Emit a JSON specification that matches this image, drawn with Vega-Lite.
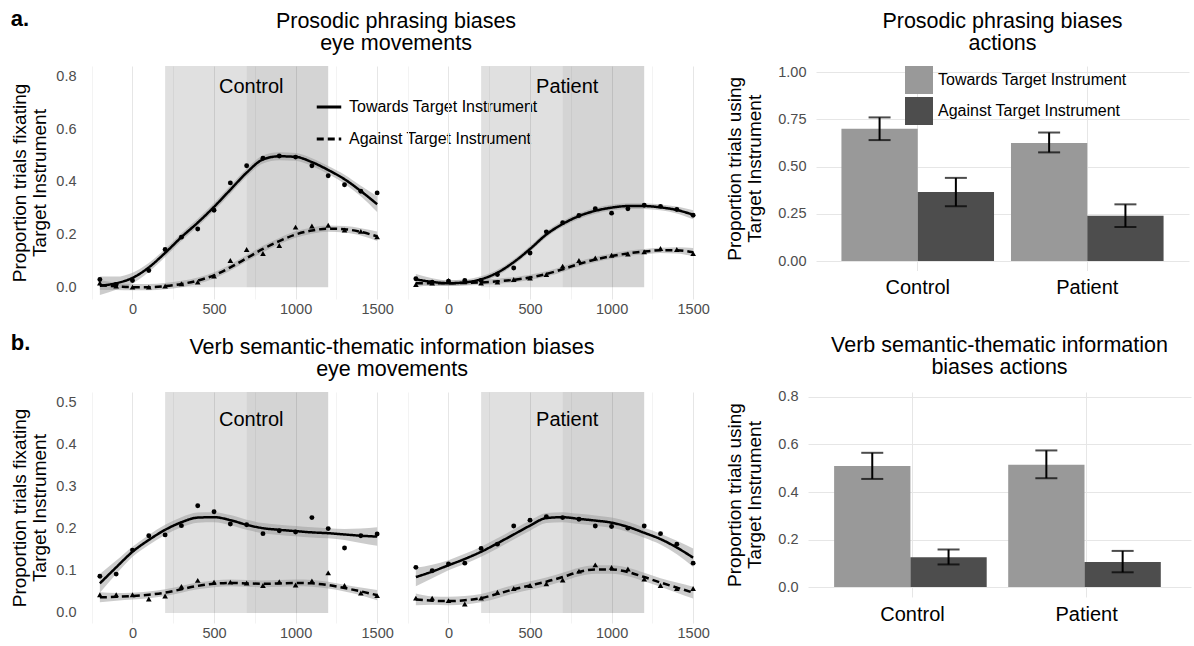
{
"$schema": "https://vega.github.io/schema/vega-lite/v6.json",
"padding": {"left": 10, "top": 7, "right": 4, "bottom": 2},
"config": {
  "font": "Liberation Sans",
  "view": {"stroke": null},
  "axis": {"domain": false, "ticks": false, "tickSize": 0, "labelColor": "#4d4d4d", "labelFontSize": 14.5, "labelPadding": 10, "titleFontSize": 19, "titleFontWeight": "normal", "titleColor": "black", "titleLineHeight": 20, "titlePadding": 6, "gridColor": "#e6e6e6"},
  "title": {"fontSize": 21.5, "fontWeight": "normal", "lineHeight": 22, "offset": 12, "color": "black"},
  "legend": {"labelFontSize": 16, "labelColor": "black", "title": null, "labelLimit": 400}
},
"datasets": {
  "shade": [{"start": 200, "end": 700}, {"start": 700, "end": 1200}],
  "bars": [
    {"row": "a", "grp": "Control", "type": "Towards", "mean": 0.70, "lo": 0.64, "hi": 0.76},
    {"row": "a", "grp": "Control", "type": "Against", "mean": 0.365, "lo": 0.29, "hi": 0.44},
    {"row": "a", "grp": "Patient", "type": "Towards", "mean": 0.625, "lo": 0.575, "hi": 0.68},
    {"row": "a", "grp": "Patient", "type": "Against", "mean": 0.24, "lo": 0.18, "hi": 0.30},
    {"row": "b", "grp": "Control", "type": "Towards", "mean": 0.51, "lo": 0.455, "hi": 0.565},
    {"row": "b", "grp": "Control", "type": "Against", "mean": 0.125, "lo": 0.095, "hi": 0.158},
    {"row": "b", "grp": "Patient", "type": "Towards", "mean": 0.515, "lo": 0.458, "hi": 0.575},
    {"row": "b", "grp": "Patient", "type": "Against", "mean": 0.105, "lo": 0.062, "hi": 0.152}
  ],
  "fit": [
    {"row":"a","grp":"Control","type":"Towards","t":-200,"fit":0.005,"lo":-0.03,"hi":0.04},
    {"row":"a","grp":"Control","type":"Towards","t":-100,"fit":0.015,"lo":-0.01,"hi":0.04},
    {"row":"a","grp":"Control","type":"Towards","t":0,"fit":0.035,"lo":0.015,"hi":0.055},
    {"row":"a","grp":"Control","type":"Towards","t":100,"fit":0.075,"lo":0.058,"hi":0.092},
    {"row":"a","grp":"Control","type":"Towards","t":200,"fit":0.13,"lo":0.115,"hi":0.145},
    {"row":"a","grp":"Control","type":"Towards","t":300,"fit":0.19,"lo":0.175,"hi":0.205},
    {"row":"a","grp":"Control","type":"Towards","t":400,"fit":0.245,"lo":0.23,"hi":0.26},
    {"row":"a","grp":"Control","type":"Towards","t":500,"fit":0.305,"lo":0.29,"hi":0.32},
    {"row":"a","grp":"Control","type":"Towards","t":600,"fit":0.37,"lo":0.355,"hi":0.385},
    {"row":"a","grp":"Control","type":"Towards","t":700,"fit":0.435,"lo":0.42,"hi":0.45},
    {"row":"a","grp":"Control","type":"Towards","t":800,"fit":0.485,"lo":0.47,"hi":0.5},
    {"row":"a","grp":"Control","type":"Towards","t":900,"fit":0.497,"lo":0.482,"hi":0.512},
    {"row":"a","grp":"Control","type":"Towards","t":1000,"fit":0.495,"lo":0.48,"hi":0.51},
    {"row":"a","grp":"Control","type":"Towards","t":1100,"fit":0.475,"lo":0.46,"hi":0.49},
    {"row":"a","grp":"Control","type":"Towards","t":1200,"fit":0.445,"lo":0.43,"hi":0.46},
    {"row":"a","grp":"Control","type":"Towards","t":1300,"fit":0.41,"lo":0.393,"hi":0.427},
    {"row":"a","grp":"Control","type":"Towards","t":1400,"fit":0.365,"lo":0.345,"hi":0.385},
    {"row":"a","grp":"Control","type":"Towards","t":1500,"fit":0.315,"lo":0.285,"hi":0.345},
    {"row":"a","grp":"Control","type":"Against","t":-200,"fit":0.008,"lo":-0.01,"hi":0.026},
    {"row":"a","grp":"Control","type":"Against","t":-100,"fit":0.003,"lo":-0.011,"hi":0.017},
    {"row":"a","grp":"Control","type":"Against","t":0,"fit":0.0,"lo":-0.012,"hi":0.012},
    {"row":"a","grp":"Control","type":"Against","t":100,"fit":0.0,"lo":-0.012,"hi":0.012},
    {"row":"a","grp":"Control","type":"Against","t":200,"fit":0.004,"lo":-0.008,"hi":0.016},
    {"row":"a","grp":"Control","type":"Against","t":300,"fit":0.012,"lo":0.0,"hi":0.024},
    {"row":"a","grp":"Control","type":"Against","t":400,"fit":0.025,"lo":0.013,"hi":0.037},
    {"row":"a","grp":"Control","type":"Against","t":500,"fit":0.045,"lo":0.033,"hi":0.057},
    {"row":"a","grp":"Control","type":"Against","t":600,"fit":0.075,"lo":0.063,"hi":0.087},
    {"row":"a","grp":"Control","type":"Against","t":700,"fit":0.11,"lo":0.098,"hi":0.122},
    {"row":"a","grp":"Control","type":"Against","t":800,"fit":0.145,"lo":0.133,"hi":0.157},
    {"row":"a","grp":"Control","type":"Against","t":900,"fit":0.175,"lo":0.163,"hi":0.187},
    {"row":"a","grp":"Control","type":"Against","t":1000,"fit":0.2,"lo":0.188,"hi":0.212},
    {"row":"a","grp":"Control","type":"Against","t":1100,"fit":0.215,"lo":0.203,"hi":0.227},
    {"row":"a","grp":"Control","type":"Against","t":1200,"fit":0.222,"lo":0.21,"hi":0.234},
    {"row":"a","grp":"Control","type":"Against","t":1300,"fit":0.22,"lo":0.208,"hi":0.232},
    {"row":"a","grp":"Control","type":"Against","t":1400,"fit":0.21,"lo":0.196,"hi":0.224},
    {"row":"a","grp":"Control","type":"Against","t":1500,"fit":0.193,"lo":0.175,"hi":0.211},
    {"row":"a","grp":"Patient","type":"Towards","t":-200,"fit":0.03,"lo":0.01,"hi":0.05},
    {"row":"a","grp":"Patient","type":"Towards","t":-100,"fit":0.02,"lo":0.006,"hi":0.034},
    {"row":"a","grp":"Patient","type":"Towards","t":0,"fit":0.015,"lo":0.004,"hi":0.026},
    {"row":"a","grp":"Patient","type":"Towards","t":100,"fit":0.018,"lo":0.007,"hi":0.029},
    {"row":"a","grp":"Patient","type":"Towards","t":200,"fit":0.03,"lo":0.019,"hi":0.041},
    {"row":"a","grp":"Patient","type":"Towards","t":300,"fit":0.055,"lo":0.044,"hi":0.066},
    {"row":"a","grp":"Patient","type":"Towards","t":400,"fit":0.095,"lo":0.084,"hi":0.106},
    {"row":"a","grp":"Patient","type":"Towards","t":500,"fit":0.145,"lo":0.134,"hi":0.156},
    {"row":"a","grp":"Patient","type":"Towards","t":600,"fit":0.2,"lo":0.189,"hi":0.211},
    {"row":"a","grp":"Patient","type":"Towards","t":700,"fit":0.24,"lo":0.229,"hi":0.251},
    {"row":"a","grp":"Patient","type":"Towards","t":800,"fit":0.27,"lo":0.259,"hi":0.281},
    {"row":"a","grp":"Patient","type":"Towards","t":900,"fit":0.29,"lo":0.279,"hi":0.301},
    {"row":"a","grp":"Patient","type":"Towards","t":1000,"fit":0.302,"lo":0.291,"hi":0.313},
    {"row":"a","grp":"Patient","type":"Towards","t":1100,"fit":0.308,"lo":0.297,"hi":0.319},
    {"row":"a","grp":"Patient","type":"Towards","t":1200,"fit":0.308,"lo":0.297,"hi":0.319},
    {"row":"a","grp":"Patient","type":"Towards","t":1300,"fit":0.303,"lo":0.292,"hi":0.314},
    {"row":"a","grp":"Patient","type":"Towards","t":1400,"fit":0.293,"lo":0.28,"hi":0.306},
    {"row":"a","grp":"Patient","type":"Towards","t":1500,"fit":0.275,"lo":0.258,"hi":0.292},
    {"row":"a","grp":"Patient","type":"Against","t":-200,"fit":0.015,"lo":0.001,"hi":0.029},
    {"row":"a","grp":"Patient","type":"Against","t":-100,"fit":0.015,"lo":0.005,"hi":0.025},
    {"row":"a","grp":"Patient","type":"Against","t":0,"fit":0.015,"lo":0.005,"hi":0.025},
    {"row":"a","grp":"Patient","type":"Against","t":100,"fit":0.016,"lo":0.006,"hi":0.026},
    {"row":"a","grp":"Patient","type":"Against","t":200,"fit":0.018,"lo":0.008,"hi":0.028},
    {"row":"a","grp":"Patient","type":"Against","t":300,"fit":0.022,"lo":0.012,"hi":0.032},
    {"row":"a","grp":"Patient","type":"Against","t":400,"fit":0.028,"lo":0.018,"hi":0.038},
    {"row":"a","grp":"Patient","type":"Against","t":500,"fit":0.037,"lo":0.027,"hi":0.047},
    {"row":"a","grp":"Patient","type":"Against","t":600,"fit":0.05,"lo":0.04,"hi":0.06},
    {"row":"a","grp":"Patient","type":"Against","t":700,"fit":0.068,"lo":0.058,"hi":0.078},
    {"row":"a","grp":"Patient","type":"Against","t":800,"fit":0.088,"lo":0.078,"hi":0.098},
    {"row":"a","grp":"Patient","type":"Against","t":900,"fit":0.105,"lo":0.095,"hi":0.115},
    {"row":"a","grp":"Patient","type":"Against","t":1000,"fit":0.118,"lo":0.108,"hi":0.128},
    {"row":"a","grp":"Patient","type":"Against","t":1100,"fit":0.128,"lo":0.118,"hi":0.138},
    {"row":"a","grp":"Patient","type":"Against","t":1200,"fit":0.135,"lo":0.125,"hi":0.145},
    {"row":"a","grp":"Patient","type":"Against","t":1300,"fit":0.14,"lo":0.13,"hi":0.15},
    {"row":"a","grp":"Patient","type":"Against","t":1400,"fit":0.14,"lo":0.128,"hi":0.152},
    {"row":"a","grp":"Patient","type":"Against","t":1500,"fit":0.133,"lo":0.117,"hi":0.149},
    {"row":"b","grp":"Control","type":"Towards","t":-200,"fit":0.07,"lo":0.048,"hi":0.092},
    {"row":"b","grp":"Control","type":"Towards","t":-100,"fit":0.108,"lo":0.092,"hi":0.124},
    {"row":"b","grp":"Control","type":"Towards","t":0,"fit":0.145,"lo":0.133,"hi":0.157},
    {"row":"b","grp":"Control","type":"Towards","t":100,"fit":0.173,"lo":0.161,"hi":0.185},
    {"row":"b","grp":"Control","type":"Towards","t":200,"fit":0.197,"lo":0.185,"hi":0.209},
    {"row":"b","grp":"Control","type":"Towards","t":300,"fit":0.215,"lo":0.203,"hi":0.227},
    {"row":"b","grp":"Control","type":"Towards","t":400,"fit":0.226,"lo":0.214,"hi":0.238},
    {"row":"b","grp":"Control","type":"Towards","t":500,"fit":0.227,"lo":0.215,"hi":0.239},
    {"row":"b","grp":"Control","type":"Towards","t":600,"fit":0.22,"lo":0.208,"hi":0.232},
    {"row":"b","grp":"Control","type":"Towards","t":700,"fit":0.209,"lo":0.197,"hi":0.221},
    {"row":"b","grp":"Control","type":"Towards","t":800,"fit":0.201,"lo":0.189,"hi":0.213},
    {"row":"b","grp":"Control","type":"Towards","t":900,"fit":0.197,"lo":0.185,"hi":0.209},
    {"row":"b","grp":"Control","type":"Towards","t":1000,"fit":0.194,"lo":0.182,"hi":0.206},
    {"row":"b","grp":"Control","type":"Towards","t":1100,"fit":0.191,"lo":0.179,"hi":0.203},
    {"row":"b","grp":"Control","type":"Towards","t":1200,"fit":0.189,"lo":0.177,"hi":0.201},
    {"row":"b","grp":"Control","type":"Towards","t":1300,"fit":0.186,"lo":0.173,"hi":0.199},
    {"row":"b","grp":"Control","type":"Towards","t":1400,"fit":0.183,"lo":0.166,"hi":0.2},
    {"row":"b","grp":"Control","type":"Towards","t":1500,"fit":0.181,"lo":0.159,"hi":0.203},
    {"row":"b","grp":"Control","type":"Against","t":-200,"fit":0.037,"lo":0.025,"hi":0.049},
    {"row":"b","grp":"Control","type":"Against","t":-100,"fit":0.038,"lo":0.029,"hi":0.047},
    {"row":"b","grp":"Control","type":"Against","t":0,"fit":0.04,"lo":0.032,"hi":0.048},
    {"row":"b","grp":"Control","type":"Against","t":100,"fit":0.043,"lo":0.035,"hi":0.051},
    {"row":"b","grp":"Control","type":"Against","t":200,"fit":0.048,"lo":0.04,"hi":0.056},
    {"row":"b","grp":"Control","type":"Against","t":300,"fit":0.056,"lo":0.048,"hi":0.064},
    {"row":"b","grp":"Control","type":"Against","t":400,"fit":0.064,"lo":0.056,"hi":0.072},
    {"row":"b","grp":"Control","type":"Against","t":500,"fit":0.069,"lo":0.061,"hi":0.077},
    {"row":"b","grp":"Control","type":"Against","t":600,"fit":0.071,"lo":0.063,"hi":0.079},
    {"row":"b","grp":"Control","type":"Against","t":700,"fit":0.07,"lo":0.062,"hi":0.078},
    {"row":"b","grp":"Control","type":"Against","t":800,"fit":0.069,"lo":0.061,"hi":0.077},
    {"row":"b","grp":"Control","type":"Against","t":900,"fit":0.07,"lo":0.062,"hi":0.078},
    {"row":"b","grp":"Control","type":"Against","t":1000,"fit":0.071,"lo":0.063,"hi":0.079},
    {"row":"b","grp":"Control","type":"Against","t":1100,"fit":0.07,"lo":0.062,"hi":0.078},
    {"row":"b","grp":"Control","type":"Against","t":1200,"fit":0.066,"lo":0.058,"hi":0.074},
    {"row":"b","grp":"Control","type":"Against","t":1300,"fit":0.059,"lo":0.051,"hi":0.067},
    {"row":"b","grp":"Control","type":"Against","t":1400,"fit":0.051,"lo":0.042,"hi":0.06},
    {"row":"b","grp":"Control","type":"Against","t":1500,"fit":0.042,"lo":0.03,"hi":0.054},
    {"row":"b","grp":"Patient","type":"Towards","t":-200,"fit":0.085,"lo":0.063,"hi":0.107},
    {"row":"b","grp":"Patient","type":"Towards","t":-100,"fit":0.098,"lo":0.082,"hi":0.114},
    {"row":"b","grp":"Patient","type":"Towards","t":0,"fit":0.113,"lo":0.101,"hi":0.125},
    {"row":"b","grp":"Patient","type":"Towards","t":100,"fit":0.128,"lo":0.116,"hi":0.14},
    {"row":"b","grp":"Patient","type":"Towards","t":200,"fit":0.145,"lo":0.133,"hi":0.157},
    {"row":"b","grp":"Patient","type":"Towards","t":300,"fit":0.165,"lo":0.153,"hi":0.177},
    {"row":"b","grp":"Patient","type":"Towards","t":400,"fit":0.186,"lo":0.174,"hi":0.198},
    {"row":"b","grp":"Patient","type":"Towards","t":500,"fit":0.207,"lo":0.195,"hi":0.219},
    {"row":"b","grp":"Patient","type":"Towards","t":600,"fit":0.225,"lo":0.213,"hi":0.237},
    {"row":"b","grp":"Patient","type":"Towards","t":700,"fit":0.227,"lo":0.215,"hi":0.239},
    {"row":"b","grp":"Patient","type":"Towards","t":800,"fit":0.223,"lo":0.211,"hi":0.235},
    {"row":"b","grp":"Patient","type":"Towards","t":900,"fit":0.219,"lo":0.207,"hi":0.231},
    {"row":"b","grp":"Patient","type":"Towards","t":1000,"fit":0.214,"lo":0.202,"hi":0.226},
    {"row":"b","grp":"Patient","type":"Towards","t":1100,"fit":0.204,"lo":0.192,"hi":0.216},
    {"row":"b","grp":"Patient","type":"Towards","t":1200,"fit":0.19,"lo":0.178,"hi":0.202},
    {"row":"b","grp":"Patient","type":"Towards","t":1300,"fit":0.175,"lo":0.162,"hi":0.188},
    {"row":"b","grp":"Patient","type":"Towards","t":1400,"fit":0.155,"lo":0.139,"hi":0.171},
    {"row":"b","grp":"Patient","type":"Towards","t":1500,"fit":0.131,"lo":0.109,"hi":0.153},
    {"row":"b","grp":"Patient","type":"Against","t":-200,"fit":0.032,"lo":0.018,"hi":0.046},
    {"row":"b","grp":"Patient","type":"Against","t":-100,"fit":0.029,"lo":0.019,"hi":0.039},
    {"row":"b","grp":"Patient","type":"Against","t":0,"fit":0.028,"lo":0.018,"hi":0.038},
    {"row":"b","grp":"Patient","type":"Against","t":100,"fit":0.03,"lo":0.02,"hi":0.04},
    {"row":"b","grp":"Patient","type":"Against","t":200,"fit":0.035,"lo":0.025,"hi":0.045},
    {"row":"b","grp":"Patient","type":"Against","t":300,"fit":0.045,"lo":0.035,"hi":0.055},
    {"row":"b","grp":"Patient","type":"Against","t":400,"fit":0.056,"lo":0.046,"hi":0.066},
    {"row":"b","grp":"Patient","type":"Against","t":500,"fit":0.065,"lo":0.055,"hi":0.075},
    {"row":"b","grp":"Patient","type":"Against","t":600,"fit":0.074,"lo":0.064,"hi":0.084},
    {"row":"b","grp":"Patient","type":"Against","t":700,"fit":0.085,"lo":0.075,"hi":0.095},
    {"row":"b","grp":"Patient","type":"Against","t":800,"fit":0.097,"lo":0.087,"hi":0.107},
    {"row":"b","grp":"Patient","type":"Against","t":900,"fit":0.103,"lo":0.093,"hi":0.113},
    {"row":"b","grp":"Patient","type":"Against","t":1000,"fit":0.103,"lo":0.093,"hi":0.113},
    {"row":"b","grp":"Patient","type":"Against","t":1100,"fit":0.097,"lo":0.087,"hi":0.107},
    {"row":"b","grp":"Patient","type":"Against","t":1200,"fit":0.085,"lo":0.075,"hi":0.095},
    {"row":"b","grp":"Patient","type":"Against","t":1300,"fit":0.072,"lo":0.062,"hi":0.082},
    {"row":"b","grp":"Patient","type":"Against","t":1400,"fit":0.06,"lo":0.048,"hi":0.072},
    {"row":"b","grp":"Patient","type":"Against","t":1500,"fit":0.048,"lo":0.034,"hi":0.062}
  ],
  "pts": [
    {"row":"a","grp":"Control","type":"Towards","t":-200,"p":0.029},
    {"row":"a","grp":"Control","type":"Towards","t":-100,"p":0.01},
    {"row":"a","grp":"Control","type":"Towards","t":0,"p":0.025},
    {"row":"a","grp":"Control","type":"Towards","t":100,"p":0.063},
    {"row":"a","grp":"Control","type":"Towards","t":200,"p":0.143},
    {"row":"a","grp":"Control","type":"Towards","t":300,"p":0.19},
    {"row":"a","grp":"Control","type":"Towards","t":400,"p":0.221},
    {"row":"a","grp":"Control","type":"Towards","t":500,"p":0.292},
    {"row":"a","grp":"Control","type":"Towards","t":600,"p":0.396},
    {"row":"a","grp":"Control","type":"Towards","t":700,"p":0.461},
    {"row":"a","grp":"Control","type":"Towards","t":800,"p":0.49},
    {"row":"a","grp":"Control","type":"Towards","t":900,"p":0.498},
    {"row":"a","grp":"Control","type":"Towards","t":1000,"p":0.494},
    {"row":"a","grp":"Control","type":"Towards","t":1100,"p":0.461},
    {"row":"a","grp":"Control","type":"Towards","t":1200,"p":0.423},
    {"row":"a","grp":"Control","type":"Towards","t":1300,"p":0.389},
    {"row":"a","grp":"Control","type":"Towards","t":1400,"p":0.364},
    {"row":"a","grp":"Control","type":"Towards","t":1500,"p":0.358},
    {"row":"a","grp":"Control","type":"Against","t":-200,"p":0.016},
    {"row":"a","grp":"Control","type":"Against","t":-100,"p":0.004},
    {"row":"a","grp":"Control","type":"Against","t":0,"p":0.0},
    {"row":"a","grp":"Control","type":"Against","t":100,"p":0.0},
    {"row":"a","grp":"Control","type":"Against","t":200,"p":0.004},
    {"row":"a","grp":"Control","type":"Against","t":300,"p":0.013},
    {"row":"a","grp":"Control","type":"Against","t":400,"p":0.019},
    {"row":"a","grp":"Control","type":"Against","t":500,"p":0.042},
    {"row":"a","grp":"Control","type":"Against","t":600,"p":0.101},
    {"row":"a","grp":"Control","type":"Against","t":700,"p":0.143},
    {"row":"a","grp":"Control","type":"Against","t":800,"p":0.128},
    {"row":"a","grp":"Control","type":"Against","t":900,"p":0.158},
    {"row":"a","grp":"Control","type":"Against","t":1000,"p":0.228},
    {"row":"a","grp":"Control","type":"Against","t":1100,"p":0.232},
    {"row":"a","grp":"Control","type":"Against","t":1200,"p":0.235},
    {"row":"a","grp":"Control","type":"Against","t":1300,"p":0.217},
    {"row":"a","grp":"Control","type":"Against","t":1400,"p":0.212},
    {"row":"a","grp":"Control","type":"Against","t":1500,"p":0.191},
    {"row":"a","grp":"Patient","type":"Towards","t":-200,"p":0.032},
    {"row":"a","grp":"Patient","type":"Towards","t":-100,"p":0.019},
    {"row":"a","grp":"Patient","type":"Towards","t":0,"p":0.023},
    {"row":"a","grp":"Patient","type":"Towards","t":100,"p":0.025},
    {"row":"a","grp":"Patient","type":"Towards","t":200,"p":0.025},
    {"row":"a","grp":"Patient","type":"Towards","t":300,"p":0.048},
    {"row":"a","grp":"Patient","type":"Towards","t":400,"p":0.073},
    {"row":"a","grp":"Patient","type":"Towards","t":500,"p":0.13},
    {"row":"a","grp":"Patient","type":"Towards","t":600,"p":0.21},
    {"row":"a","grp":"Patient","type":"Towards","t":700,"p":0.245},
    {"row":"a","grp":"Patient","type":"Towards","t":800,"p":0.272},
    {"row":"a","grp":"Patient","type":"Towards","t":900,"p":0.298},
    {"row":"a","grp":"Patient","type":"Towards","t":1000,"p":0.281},
    {"row":"a","grp":"Patient","type":"Towards","t":1100,"p":0.298},
    {"row":"a","grp":"Patient","type":"Towards","t":1200,"p":0.311},
    {"row":"a","grp":"Patient","type":"Towards","t":1300,"p":0.307},
    {"row":"a","grp":"Patient","type":"Towards","t":1400,"p":0.295},
    {"row":"a","grp":"Patient","type":"Towards","t":1500,"p":0.273},
    {"row":"a","grp":"Patient","type":"Against","t":-200,"p":0.01},
    {"row":"a","grp":"Patient","type":"Against","t":-100,"p":0.016},
    {"row":"a","grp":"Patient","type":"Against","t":0,"p":0.025},
    {"row":"a","grp":"Patient","type":"Against","t":100,"p":0.023},
    {"row":"a","grp":"Patient","type":"Against","t":200,"p":0.016},
    {"row":"a","grp":"Patient","type":"Against","t":300,"p":0.019},
    {"row":"a","grp":"Patient","type":"Against","t":400,"p":0.029},
    {"row":"a","grp":"Patient","type":"Against","t":500,"p":0.035},
    {"row":"a","grp":"Patient","type":"Against","t":600,"p":0.048},
    {"row":"a","grp":"Patient","type":"Against","t":700,"p":0.08},
    {"row":"a","grp":"Patient","type":"Against","t":800,"p":0.101},
    {"row":"a","grp":"Patient","type":"Against","t":900,"p":0.111},
    {"row":"a","grp":"Patient","type":"Against","t":1000,"p":0.121},
    {"row":"a","grp":"Patient","type":"Against","t":1100,"p":0.126},
    {"row":"a","grp":"Patient","type":"Against","t":1200,"p":0.134},
    {"row":"a","grp":"Patient","type":"Against","t":1300,"p":0.147},
    {"row":"a","grp":"Patient","type":"Against","t":1400,"p":0.143},
    {"row":"a","grp":"Patient","type":"Against","t":1500,"p":0.128},
    {"row":"b","grp":"Control","type":"Towards","t":-200,"p":0.087},
    {"row":"b","grp":"Control","type":"Towards","t":-100,"p":0.092},
    {"row":"b","grp":"Control","type":"Towards","t":0,"p":0.149},
    {"row":"b","grp":"Control","type":"Towards","t":100,"p":0.183},
    {"row":"b","grp":"Control","type":"Towards","t":200,"p":0.185},
    {"row":"b","grp":"Control","type":"Towards","t":300,"p":0.207},
    {"row":"b","grp":"Control","type":"Towards","t":400,"p":0.254},
    {"row":"b","grp":"Control","type":"Towards","t":500,"p":0.24},
    {"row":"b","grp":"Control","type":"Towards","t":600,"p":0.211},
    {"row":"b","grp":"Control","type":"Towards","t":700,"p":0.209},
    {"row":"b","grp":"Control","type":"Towards","t":800,"p":0.188},
    {"row":"b","grp":"Control","type":"Towards","t":900,"p":0.195},
    {"row":"b","grp":"Control","type":"Towards","t":1000,"p":0.192},
    {"row":"b","grp":"Control","type":"Towards","t":1100,"p":0.226},
    {"row":"b","grp":"Control","type":"Towards","t":1200,"p":0.2},
    {"row":"b","grp":"Control","type":"Towards","t":1300,"p":0.154},
    {"row":"b","grp":"Control","type":"Towards","t":1400,"p":0.183},
    {"row":"b","grp":"Control","type":"Towards","t":1500,"p":0.187},
    {"row":"b","grp":"Control","type":"Against","t":-200,"p":0.043},
    {"row":"b","grp":"Control","type":"Against","t":-100,"p":0.043},
    {"row":"b","grp":"Control","type":"Against","t":0,"p":0.043},
    {"row":"b","grp":"Control","type":"Against","t":100,"p":0.033},
    {"row":"b","grp":"Control","type":"Against","t":200,"p":0.04},
    {"row":"b","grp":"Control","type":"Against","t":300,"p":0.063},
    {"row":"b","grp":"Control","type":"Against","t":400,"p":0.077},
    {"row":"b","grp":"Control","type":"Against","t":500,"p":0.073},
    {"row":"b","grp":"Control","type":"Against","t":600,"p":0.073},
    {"row":"b","grp":"Control","type":"Against","t":700,"p":0.071},
    {"row":"b","grp":"Control","type":"Against","t":800,"p":0.065},
    {"row":"b","grp":"Control","type":"Against","t":900,"p":0.074},
    {"row":"b","grp":"Control","type":"Against","t":1000,"p":0.066},
    {"row":"b","grp":"Control","type":"Against","t":1100,"p":0.076},
    {"row":"b","grp":"Control","type":"Against","t":1200,"p":0.095},
    {"row":"b","grp":"Control","type":"Against","t":1300,"p":0.065},
    {"row":"b","grp":"Control","type":"Against","t":1400,"p":0.047},
    {"row":"b","grp":"Control","type":"Against","t":1500,"p":0.041},
    {"row":"b","grp":"Patient","type":"Towards","t":-200,"p":0.108},
    {"row":"b","grp":"Patient","type":"Towards","t":-100,"p":0.1},
    {"row":"b","grp":"Patient","type":"Towards","t":0,"p":0.116},
    {"row":"b","grp":"Patient","type":"Towards","t":100,"p":0.118},
    {"row":"b","grp":"Patient","type":"Towards","t":200,"p":0.153},
    {"row":"b","grp":"Patient","type":"Towards","t":300,"p":0.163},
    {"row":"b","grp":"Patient","type":"Towards","t":400,"p":0.206},
    {"row":"b","grp":"Patient","type":"Towards","t":500,"p":0.22},
    {"row":"b","grp":"Patient","type":"Towards","t":600,"p":0.228},
    {"row":"b","grp":"Patient","type":"Towards","t":700,"p":0.226},
    {"row":"b","grp":"Patient","type":"Towards","t":800,"p":0.222},
    {"row":"b","grp":"Patient","type":"Towards","t":900,"p":0.206},
    {"row":"b","grp":"Patient","type":"Towards","t":1000,"p":0.205},
    {"row":"b","grp":"Patient","type":"Towards","t":1100,"p":0.201},
    {"row":"b","grp":"Patient","type":"Towards","t":1200,"p":0.206},
    {"row":"b","grp":"Patient","type":"Towards","t":1300,"p":0.188},
    {"row":"b","grp":"Patient","type":"Towards","t":1400,"p":0.163},
    {"row":"b","grp":"Patient","type":"Towards","t":1500,"p":0.118},
    {"row":"b","grp":"Patient","type":"Against","t":-200,"p":0.035},
    {"row":"b","grp":"Patient","type":"Against","t":-100,"p":0.035},
    {"row":"b","grp":"Patient","type":"Against","t":0,"p":0.029},
    {"row":"b","grp":"Patient","type":"Against","t":100,"p":0.021},
    {"row":"b","grp":"Patient","type":"Against","t":200,"p":0.035},
    {"row":"b","grp":"Patient","type":"Against","t":300,"p":0.049},
    {"row":"b","grp":"Patient","type":"Against","t":400,"p":0.058},
    {"row":"b","grp":"Patient","type":"Against","t":500,"p":0.065},
    {"row":"b","grp":"Patient","type":"Against","t":600,"p":0.069},
    {"row":"b","grp":"Patient","type":"Against","t":700,"p":0.078},
    {"row":"b","grp":"Patient","type":"Against","t":800,"p":0.099},
    {"row":"b","grp":"Patient","type":"Against","t":900,"p":0.114},
    {"row":"b","grp":"Patient","type":"Against","t":1000,"p":0.108},
    {"row":"b","grp":"Patient","type":"Against","t":1100,"p":0.104},
    {"row":"b","grp":"Patient","type":"Against","t":1200,"p":0.08},
    {"row":"b","grp":"Patient","type":"Against","t":1300,"p":0.065},
    {"row":"b","grp":"Patient","type":"Against","t":1400,"p":0.058},
    {"row":"b","grp":"Patient","type":"Against","t":1500,"p":0.058}
  ]
},
"spacing": 16,
"resolve": {"scale": {"fill": "independent", "strokeDash": "independent"}, "legend": {"fill": "independent", "strokeDash": "independent"}},
"vconcat": [
 {
  "title": {"text": "a.", "anchor": "start", "fontWeight": "bold", "fontSize": 22, "dy": 32},
  "spacing": 15,
  "resolve": {"scale": {"fill": "independent", "strokeDash": "independent"}, "legend": {"fill": "independent", "strokeDash": "independent"}},
  "hconcat": [
   {
    "title": {"text": ["Prosodic phrasing biases", "eye movements"], "frame": "group", "anchor": "middle", "dx": 310},
    "bounds": "flush",
    "spacing": 11,
    "resolve": {"scale": {"fill": "independent", "strokeDash": "independent"}, "legend": {"fill": "independent", "strokeDash": "independent"}},
    "hconcat": [
     {
      "width": 305, "height": 233,
      "layer": [
       {"data": {"name": "shade"}, "mark": {"type": "rect", "color": "black"},
        "encoding": {
          "x": {"field": "start", "type": "quantitative", "scale": {"domain": [-285, 1585], "nice": false, "zero": false},
                "axis": {"title": null, "labelPadding": 3, "values": [-250, 0, 250, 500, 750, 1000, 1250, 1500], "format": "d", "labelExpr": "datum.value % 500 === 0 ? datum.label : ''", "gridColor": {"condition": {"test": "datum.value % 500 === 0", "value": "#e6e6e6"}, "value": "#f3f3f3"}}},
          "x2": {"field": "end"},
          "y": {"datum": 0, "type": "quantitative", "scale": {"domain": [-0.045, 0.84], "nice": false, "zero": false},
                "axis": {"title": ["Proportion trials fixating", "Target Instrument"], "values": [0, 0.1, 0.2, 0.3, 0.4, 0.5, 0.6, 0.7, 0.8], "format": ".1f", "labelExpr": "round(datum.value*10) % 2 === 0 ? datum.label : ''", "gridColor": {"condition": {"test": "round(datum.value*10) % 2 === 0", "value": "#e6e6e6"}, "value": "#f3f3f3"}}},
          "y2": {"datum": 0.84},
          "opacity": {"condition": {"test": "datum.start === 700", "value": 0.17}, "value": 0.12}
        }},
       {"data": {"name": "fit"}, "transform": [{"filter": "datum.row === 'a' && datum.grp === 'Control'"}],
        "mark": {"type": "area", "color": "#999999", "opacity": 0.5, "interpolate": "monotone"},
        "encoding": {"x": {"field": "t", "type": "quantitative"}, "y": {"field": "lo", "type": "quantitative"}, "y2": {"field": "hi"}, "detail": {"field": "type"}}},
       {"data": {"name": "fit"}, "transform": [{"filter": "datum.row === 'a' && datum.grp === 'Control'"}],
        "mark": {"type": "line", "color": "black", "strokeWidth": 2.5, "interpolate": "monotone"},
        "encoding": {"x": {"field": "t", "type": "quantitative"}, "y": {"field": "fit", "type": "quantitative"},
          "strokeDash": {"field": "type", "type": "nominal", "scale": {"domain": ["Towards", "Against"], "range": [[1, 0], [7, 4]]},
            "legend": {"orient": "none", "legendX": 229, "legendY": 27, "symbolType": "stroke", "symbolStrokeWidth": 3, "symbolSize": 600, "symbolStrokeColor": "black", "rowPadding": 10, "labelOffset": 6, "labelExpr": "datum.label + ' Target Instrument'"}}}},
       {"data": {"name": "pts"}, "transform": [{"filter": "datum.row === 'a' && datum.grp === 'Control' && datum.type === 'Towards'"}],
        "mark": {"type": "point", "shape": "circle", "filled": true, "size": 24, "opacity": 1, "color": "black"},
        "encoding": {"x": {"field": "t", "type": "quantitative"}, "y": {"field": "p", "type": "quantitative"}}},
       {"data": {"name": "pts"}, "transform": [{"filter": "datum.row === 'a' && datum.grp === 'Control' && datum.type === 'Against'"}],
        "mark": {"type": "point", "shape": "triangle-up", "filled": true, "size": 32, "opacity": 1, "color": "black"},
        "encoding": {"x": {"field": "t", "type": "quantitative"}, "y": {"field": "p", "type": "quantitative"}}},
       {"data": {"values": [{"label": "Control"}]}, "mark": {"type": "text", "fontSize": 20, "color": "black"},
        "encoding": {"x": {"datum": 728}, "y": {"datum": 0.762}, "text": {"field": "label"}}}
      ]
     },
     {
      "width": 305, "height": 233,
      "layer": [
       {"data": {"name": "shade"}, "mark": {"type": "rect", "color": "black"},
        "encoding": {
          "x": {"field": "start", "type": "quantitative", "scale": {"domain": [-285, 1585], "nice": false, "zero": false},
                "axis": {"title": null, "labelPadding": 3, "values": [-250, 0, 250, 500, 750, 1000, 1250, 1500], "format": "d", "labelExpr": "datum.value % 500 === 0 ? datum.label : ''", "gridColor": {"condition": {"test": "datum.value % 500 === 0", "value": "#e6e6e6"}, "value": "#f3f3f3"}}},
          "x2": {"field": "end"},
          "y": {"datum": 0, "type": "quantitative", "scale": {"domain": [-0.045, 0.84], "nice": false, "zero": false},
                "axis": {"title": null, "labels": false, "values": [0, 0.1, 0.2, 0.3, 0.4, 0.5, 0.6, 0.7, 0.8], "gridColor": {"condition": {"test": "round(datum.value*10) % 2 === 0", "value": "#e6e6e6"}, "value": "#f3f3f3"}}},
          "y2": {"datum": 0.84},
          "opacity": {"condition": {"test": "datum.start === 700", "value": 0.17}, "value": 0.12}
        }},
       {"data": {"name": "fit"}, "transform": [{"filter": "datum.row === 'a' && datum.grp === 'Patient'"}],
        "mark": {"type": "area", "color": "#999999", "opacity": 0.5, "interpolate": "monotone"},
        "encoding": {"x": {"field": "t", "type": "quantitative"}, "y": {"field": "lo", "type": "quantitative"}, "y2": {"field": "hi"}, "detail": {"field": "type"}}},
       {"data": {"name": "fit"}, "transform": [{"filter": "datum.row === 'a' && datum.grp === 'Patient'"}],
        "mark": {"type": "line", "color": "black", "strokeWidth": 2.5, "interpolate": "monotone"},
        "encoding": {"x": {"field": "t", "type": "quantitative"}, "y": {"field": "fit", "type": "quantitative"},
          "strokeDash": {"field": "type", "type": "nominal", "scale": {"domain": ["Towards", "Against"], "range": [[1, 0], [7, 4]]}, "legend": null}}},
       {"data": {"name": "pts"}, "transform": [{"filter": "datum.row === 'a' && datum.grp === 'Patient' && datum.type === 'Towards'"}],
        "mark": {"type": "point", "shape": "circle", "filled": true, "size": 24, "opacity": 1, "color": "black"},
        "encoding": {"x": {"field": "t", "type": "quantitative"}, "y": {"field": "p", "type": "quantitative"}}},
       {"data": {"name": "pts"}, "transform": [{"filter": "datum.row === 'a' && datum.grp === 'Patient' && datum.type === 'Against'"}],
        "mark": {"type": "point", "shape": "triangle-up", "filled": true, "size": 32, "opacity": 1, "color": "black"},
        "encoding": {"x": {"field": "t", "type": "quantitative"}, "y": {"field": "p", "type": "quantitative"}}},
       {"data": {"values": [{"label": "Patient"}]}, "mark": {"type": "text", "fontSize": 20, "color": "black"},
        "encoding": {"x": {"datum": 728}, "y": {"datum": 0.762}, "text": {"field": "label"}}}
      ]
     }
    ]
   },
   {
    "title": {"text": ["Prosodic phrasing biases", "actions"], "frame": "group", "anchor": "middle", "offset": 10},
    "width": 373, "height": 204.5,
    "data": {"name": "bars"},
    "transform": [{"filter": "datum.row === 'a'"}],
    "layer": [
     {"mark": {"type": "bar"},
      "encoding": {
        "x": {"field": "grp", "type": "nominal", "scale": {"domain": ["Control", "Patient"], "paddingInner": 0.1, "paddingOuter": 0.15},
              "axis": {"title": null, "labelAngle": 0, "labelFontSize": 20, "labelColor": "black", "labelPadding": 7, "grid": true, "bandPosition": 0.5, "gridColor": "#e6e6e6"}},
        "xOffset": {"field": "type", "type": "nominal", "scale": {"domain": ["Towards", "Against"], "paddingInner": 0, "paddingOuter": 0}},
        "y": {"field": "mean", "type": "quantitative", "scale": {"domain": [-0.05, 1.032], "nice": false, "zero": false},
              "axis": {"title": ["Proportion trials using", "Target Instrument"], "titlePadding": 13, "values": [0, 0.125, 0.25, 0.375, 0.5, 0.625, 0.75, 0.875, 1], "format": ".2f", "labelExpr": "round(datum.value*8) % 2 === 0 ? datum.label : ''", "gridColor": {"condition": {"test": "round(datum.value*8) % 2 === 0", "value": "#e6e6e6"}, "value": "#f3f3f3"}}},
        "y2": {"datum": 0},
        "fill": {"field": "type", "type": "nominal", "scale": {"domain": ["Towards", "Against"], "range": ["#999999", "#4d4d4d"]},
          "legend": {"orient": "none", "legendX": 89, "legendY": 0, "symbolType": "square", "symbolSize": 784, "symbolStrokeWidth": 0, "rowPadding": 3, "labelOffset": 5, "labelExpr": "datum.label + ' Target Instrument'"}}
      }},
     {"mark": {"type": "rule", "color": "black", "strokeWidth": 2},
      "encoding": {"x": {"field": "grp", "type": "nominal"}, "xOffset": {"field": "type", "type": "nominal"}, "y": {"field": "lo", "type": "quantitative"}, "y2": {"field": "hi"}}},
     {"mark": {"type": "tick", "color": "black", "thickness": 2, "size": 22},
      "encoding": {"x": {"field": "grp", "type": "nominal"}, "xOffset": {"field": "type", "type": "nominal"}, "y": {"field": "lo", "type": "quantitative"}}},
     {"mark": {"type": "tick", "color": "black", "thickness": 2, "size": 22},
      "encoding": {"x": {"field": "grp", "type": "nominal"}, "xOffset": {"field": "type", "type": "nominal"}, "y": {"field": "hi", "type": "quantitative"}}}
    ]
   }
  ]
 },
 {
  "title": {"text": "b.", "anchor": "start", "fontWeight": "bold", "fontSize": 22, "dy": 32},
  "spacing": 15,
  "resolve": {"scale": {"fill": "independent", "strokeDash": "independent"}, "legend": {"fill": "independent", "strokeDash": "independent"}},
  "hconcat": [
   {
    "title": {"text": ["Verb semantic-thematic information biases", "eye movements"], "frame": "group", "anchor": "middle", "dx": 306},
    "bounds": "flush",
    "spacing": 11,
    "resolve": {"scale": {"fill": "independent", "strokeDash": "independent"}, "legend": {"fill": "independent", "strokeDash": "independent"}},
    "hconcat": [
     {
      "width": 305, "height": 231,
      "layer": [
       {"data": {"name": "shade"}, "mark": {"type": "rect", "color": "black"},
        "encoding": {
          "x": {"field": "start", "type": "quantitative", "scale": {"domain": [-285, 1585], "nice": false, "zero": false},
                "axis": {"title": null, "labelPadding": 3, "values": [-250, 0, 250, 500, 750, 1000, 1250, 1500], "format": "d", "labelExpr": "datum.value % 500 === 0 ? datum.label : ''", "gridColor": {"condition": {"test": "datum.value % 500 === 0", "value": "#e6e6e6"}, "value": "#f3f3f3"}}},
          "x2": {"field": "end"},
          "y": {"datum": 0, "type": "quantitative", "scale": {"domain": [-0.024, 0.524], "nice": false, "zero": false},
                "axis": {"title": ["Proportion trials fixating", "Target Instrument"], "values": [0, 0.05, 0.1, 0.15, 0.2, 0.25, 0.3, 0.35, 0.4, 0.45, 0.5], "format": ".1f", "labelExpr": "round(datum.value*20) % 2 === 0 ? datum.label : ''", "gridColor": {"condition": {"test": "round(datum.value*20) % 2 === 0", "value": "#e6e6e6"}, "value": "#f3f3f3"}}},
          "y2": {"datum": 0.524},
          "opacity": {"condition": {"test": "datum.start === 700", "value": 0.17}, "value": 0.12}
        }},
       {"data": {"name": "fit"}, "transform": [{"filter": "datum.row === 'b' && datum.grp === 'Control'"}],
        "mark": {"type": "area", "color": "#999999", "opacity": 0.5, "interpolate": "monotone"},
        "encoding": {"x": {"field": "t", "type": "quantitative"}, "y": {"field": "lo", "type": "quantitative"}, "y2": {"field": "hi"}, "detail": {"field": "type"}}},
       {"data": {"name": "fit"}, "transform": [{"filter": "datum.row === 'b' && datum.grp === 'Control'"}],
        "mark": {"type": "line", "color": "black", "strokeWidth": 2.5, "interpolate": "monotone"},
        "encoding": {"x": {"field": "t", "type": "quantitative"}, "y": {"field": "fit", "type": "quantitative"},
          "strokeDash": {"field": "type", "type": "nominal", "scale": {"domain": ["Towards", "Against"], "range": [[1, 0], [7, 4]]}, "legend": null}}},
       {"data": {"name": "pts"}, "transform": [{"filter": "datum.row === 'b' && datum.grp === 'Control' && datum.type === 'Towards'"}],
        "mark": {"type": "point", "shape": "circle", "filled": true, "size": 24, "opacity": 1, "color": "black"},
        "encoding": {"x": {"field": "t", "type": "quantitative"}, "y": {"field": "p", "type": "quantitative"}}},
       {"data": {"name": "pts"}, "transform": [{"filter": "datum.row === 'b' && datum.grp === 'Control' && datum.type === 'Against'"}],
        "mark": {"type": "point", "shape": "triangle-up", "filled": true, "size": 32, "opacity": 1, "color": "black"},
        "encoding": {"x": {"field": "t", "type": "quantitative"}, "y": {"field": "p", "type": "quantitative"}}},
       {"data": {"values": [{"label": "Control"}]}, "mark": {"type": "text", "fontSize": 20, "color": "black"},
        "encoding": {"x": {"datum": 728}, "y": {"datum": 0.457}, "text": {"field": "label"}}}
      ]
     },
     {
      "width": 305, "height": 231,
      "layer": [
       {"data": {"name": "shade"}, "mark": {"type": "rect", "color": "black"},
        "encoding": {
          "x": {"field": "start", "type": "quantitative", "scale": {"domain": [-285, 1585], "nice": false, "zero": false},
                "axis": {"title": null, "labelPadding": 3, "values": [-250, 0, 250, 500, 750, 1000, 1250, 1500], "format": "d", "labelExpr": "datum.value % 500 === 0 ? datum.label : ''", "gridColor": {"condition": {"test": "datum.value % 500 === 0", "value": "#e6e6e6"}, "value": "#f3f3f3"}}},
          "x2": {"field": "end"},
          "y": {"datum": 0, "type": "quantitative", "scale": {"domain": [-0.024, 0.524], "nice": false, "zero": false},
                "axis": {"title": null, "labels": false, "values": [0, 0.05, 0.1, 0.15, 0.2, 0.25, 0.3, 0.35, 0.4, 0.45, 0.5], "gridColor": {"condition": {"test": "round(datum.value*20) % 2 === 0", "value": "#e6e6e6"}, "value": "#f3f3f3"}}},
          "y2": {"datum": 0.524},
          "opacity": {"condition": {"test": "datum.start === 700", "value": 0.17}, "value": 0.12}
        }},
       {"data": {"name": "fit"}, "transform": [{"filter": "datum.row === 'b' && datum.grp === 'Patient'"}],
        "mark": {"type": "area", "color": "#999999", "opacity": 0.5, "interpolate": "monotone"},
        "encoding": {"x": {"field": "t", "type": "quantitative"}, "y": {"field": "lo", "type": "quantitative"}, "y2": {"field": "hi"}, "detail": {"field": "type"}}},
       {"data": {"name": "fit"}, "transform": [{"filter": "datum.row === 'b' && datum.grp === 'Patient'"}],
        "mark": {"type": "line", "color": "black", "strokeWidth": 2.5, "interpolate": "monotone"},
        "encoding": {"x": {"field": "t", "type": "quantitative"}, "y": {"field": "fit", "type": "quantitative"},
          "strokeDash": {"field": "type", "type": "nominal", "scale": {"domain": ["Towards", "Against"], "range": [[1, 0], [7, 4]]}, "legend": null}}},
       {"data": {"name": "pts"}, "transform": [{"filter": "datum.row === 'b' && datum.grp === 'Patient' && datum.type === 'Towards'"}],
        "mark": {"type": "point", "shape": "circle", "filled": true, "size": 24, "opacity": 1, "color": "black"},
        "encoding": {"x": {"field": "t", "type": "quantitative"}, "y": {"field": "p", "type": "quantitative"}}},
       {"data": {"name": "pts"}, "transform": [{"filter": "datum.row === 'b' && datum.grp === 'Patient' && datum.type === 'Against'"}],
        "mark": {"type": "point", "shape": "triangle-up", "filled": true, "size": 32, "opacity": 1, "color": "black"},
        "encoding": {"x": {"field": "t", "type": "quantitative"}, "y": {"field": "p", "type": "quantitative"}}},
       {"data": {"values": [{"label": "Patient"}]}, "mark": {"type": "text", "fontSize": 20, "color": "black"},
        "encoding": {"x": {"datum": 728}, "y": {"datum": 0.457}, "text": {"field": "label"}}}
      ]
     }
    ]
   },
   {
    "title": {"text": ["Verb semantic-thematic information", "biases actions"], "frame": "group", "anchor": "middle", "offset": 10},
    "width": 383, "height": 205,
    "data": {"name": "bars"},
    "transform": [{"filter": "datum.row === 'b'"}],
    "layer": [
     {"mark": {"type": "bar"},
      "encoding": {
        "x": {"field": "grp", "type": "nominal", "scale": {"domain": ["Control", "Patient"], "paddingInner": 0.1, "paddingOuter": 0.15},
              "axis": {"title": null, "labelAngle": 0, "labelFontSize": 20, "labelColor": "black", "labelPadding": 7, "grid": true, "bandPosition": 0.5, "gridColor": "#e6e6e6"}},
        "xOffset": {"field": "type", "type": "nominal", "scale": {"domain": ["Towards", "Against"], "paddingInner": 0, "paddingOuter": 0}},
        "y": {"field": "mean", "type": "quantitative", "scale": {"domain": [-0.042, 0.821], "nice": false, "zero": false},
              "axis": {"title": ["Proportion trials using", "Target Instrument"], "titlePadding": 13, "values": [0, 0.1, 0.2, 0.3, 0.4, 0.5, 0.6, 0.7, 0.8], "format": ".1f", "labelExpr": "round(datum.value*10) % 2 === 0 ? datum.label : ''", "gridColor": {"condition": {"test": "round(datum.value*10) % 2 === 0", "value": "#e6e6e6"}, "value": "#f3f3f3"}}},
        "y2": {"datum": 0},
        "fill": {"field": "type", "type": "nominal", "scale": {"domain": ["Towards", "Against"], "range": ["#999999", "#4d4d4d"]}, "legend": null}
      }},
     {"mark": {"type": "rule", "color": "black", "strokeWidth": 2},
      "encoding": {"x": {"field": "grp", "type": "nominal"}, "xOffset": {"field": "type", "type": "nominal"}, "y": {"field": "lo", "type": "quantitative"}, "y2": {"field": "hi"}}},
     {"mark": {"type": "tick", "color": "black", "thickness": 2, "size": 22},
      "encoding": {"x": {"field": "grp", "type": "nominal"}, "xOffset": {"field": "type", "type": "nominal"}, "y": {"field": "lo", "type": "quantitative"}}},
     {"mark": {"type": "tick", "color": "black", "thickness": 2, "size": 22},
      "encoding": {"x": {"field": "grp", "type": "nominal"}, "xOffset": {"field": "type", "type": "nominal"}, "y": {"field": "hi", "type": "quantitative"}}}
    ]
   }
  ]
 }
]
}
